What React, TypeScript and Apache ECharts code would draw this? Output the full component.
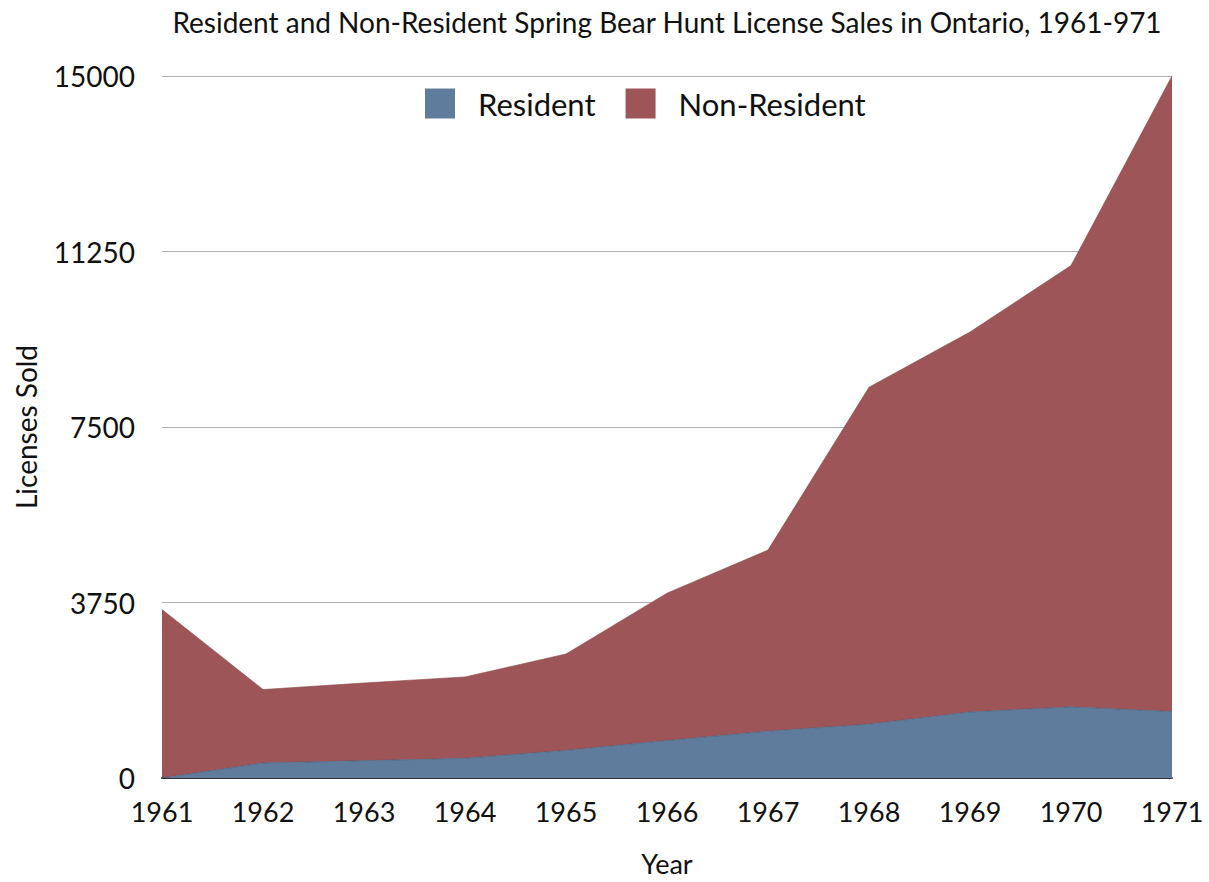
import React, { useEffect, useRef } from "react";
import * as echarts from "echarts";

const years = ["1961", "1962", "1963", "1964", "1965", "1966", "1967", "1968", "1969", "1970", "1971"];
const resident = [0, 320, 370, 420, 590, 800, 1000, 1150, 1410, 1520, 1420];
const nonResident = [3600, 1570, 1660, 1740, 2060, 3150, 3870, 7200, 8120, 9430, 13580];
const yTicks = [0, 3750, 7500, 11250, 15000];

const FONT = "'Lato', 'Open Sans', sans-serif";

export default function App() {
  const ref = useRef<HTMLDivElement>(null);
  useEffect(() => {
    if (!ref.current) return;
    const chart = echarts.init(ref.current, undefined, { renderer: "svg" });
    chart.setOption({
      animation: false,
      backgroundColor: "#ffffff",
      title: {
        text: "Resident and Non-Resident Spring Bear Hunt License Sales in Ontario, 1961-971",
        left: 662,
        textAlign: "center",
        top: 3,
        textStyle: { fontFamily: FONT, fontSize: 28, fontWeight: "normal", color: "#111" },
      },
      legend: {
        top: 83,
        left: 420,
        itemWidth: 30,
        itemHeight: 30,
        itemGap: 30,
        icon: "rect",
        textStyle: { fontFamily: FONT, fontSize: 31, color: "#111", padding: [0, 0, 0, 18] },
        data: ["Resident", "Non-Resident"],
      },
      grid: { left: 162, right: 37, top: 76, bottom: 104, outerBoundsMode: "none", containLabel: false },
      xAxis: {
        type: "category",
        data: years,
        boundaryGap: false,
        name: "Year",
        nameLocation: "middle",
        nameGap: 72,
        nameTextStyle: { fontFamily: FONT, fontSize: 27, color: "#111" },
        axisLine: { show: true, lineStyle: { color: "#333", width: 2 } },
        axisTick: { show: false },
        axisLabel: { fontFamily: FONT, fontSize: 27, color: "#111", margin: 20 },
        splitLine: { show: false },
      },
      yAxis: {
        type: "value",
        min: yTicks[0],
        max: yTicks[yTicks.length - 1],
        interval: 3750,
        name: "Licenses Sold",
        nameLocation: "middle",
        nameGap: 122,
        nameTextStyle: { fontFamily: FONT, fontSize: 28, color: "#111" },
        axisLine: { show: false },
        axisTick: { show: false },
        axisLabel: {
          fontFamily: FONT,
          fontSize: 28,
          color: "#111",
          margin: 27,
          formatter: (v: number) => String(v),
        },
        splitLine: { show: true, lineStyle: { color: "#b0b0b0", width: 1 } },
      },
      series: [
        {
          name: "Resident",
          type: "line",
          stack: "total",
          data: resident,
          symbol: "none",
          lineStyle: { width: 0.6, color: "#3e5573" },
          itemStyle: { color: "#607c9c" },
          areaStyle: { color: "#607c9c", opacity: 1 },
          z: 3,
        },
        {
          name: "Non-Resident",
          type: "line",
          stack: "total",
          data: nonResident,
          symbol: "none",
          lineStyle: { width: 0.6, color: "#8a4447" },
          itemStyle: { color: "#9e5558" },
          areaStyle: { color: "#9e5558", opacity: 1 },
          z: 2,
        },
      ],
    });
    return () => chart.dispose();
  }, []);
  return (
    <div
      ref={ref}
      style={{ position: "fixed", left: 0, top: 0, width: 1209, height: 882 }}
    />
  );
}
